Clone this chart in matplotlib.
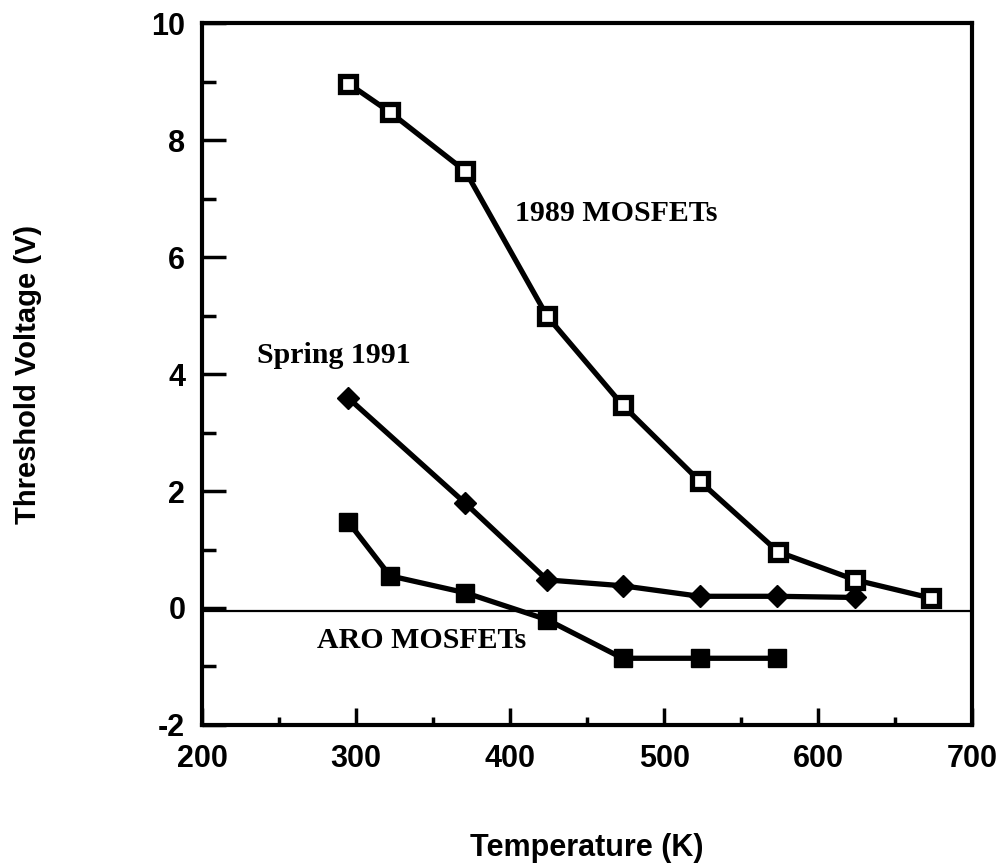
import matplotlib
matplotlib.use("Agg")
import matplotlib.pyplot as plt
from matplotlib.ticker import MultipleLocator

plt.rcParams["axes.unicode_minus"] = False

# temperatures (K) and threshold voltages (V)
temp_1989 = [295, 322, 371, 424, 473, 523, 574, 624, 673]
vt_1989 = [8.97, 8.48, 7.47, 4.99, 3.47, 2.17, 0.96, 0.48, 0.17]

temp_1991 = [295, 371, 424, 473, 523, 573, 624]
vt_1991 = [3.59, 1.79, 0.48, 0.38, 0.2, 0.2, 0.18]

temp_aro = [295, 322, 371, 424, 473, 523, 573]
vt_aro = [1.47, 0.55, 0.26, -0.2, -0.86, -0.86, -0.86]

fig = plt.figure(figsize=(10.03, 8.63), dpi=100)
ax = fig.add_axes([0.2014, 0.160, 0.768, 0.813])

ax.axhline(-0.05, color="k", lw=1.6, zorder=1)

ax.plot(temp_1989, vt_1989, color="k", lw=3.8, marker="s", ms=12,
        mfc="white", mec="k", mew=3.8, zorder=3)
ax.plot(temp_1991, vt_1991, color="k", lw=3.8, marker="D", ms=11,
        mfc="k", mec="k", zorder=3)
ax.plot(temp_aro, vt_aro, color="k", lw=3.8, marker="s", ms=13,
        mfc="k", mec="k", zorder=3)

serif = dict(family="Liberation Serif", fontsize=21.5, fontweight="bold")
ax.text(403, 6.75, "1989 MOSFETs", va="center", ha="left", **serif)
ax.text(236, 4.31, "Spring 1991", va="center", ha="left", **serif)
ax.text(274.5, -0.55, "ARO MOSFETs", va="center", ha="left", **serif)

ax.set_xlim(200, 700)
ax.set_ylim(-2, 10)
ax.xaxis.set_major_locator(MultipleLocator(100))
ax.xaxis.set_minor_locator(MultipleLocator(50))
ax.yaxis.set_major_locator(MultipleLocator(2))
ax.yaxis.set_minor_locator(MultipleLocator(1))

ax.tick_params(axis="x", which="major", direction="in", length=12, width=2.5, pad=14)
ax.tick_params(axis="x", which="minor", direction="in", length=6, width=2.5)
ax.tick_params(axis="y", which="major", direction="in", length=17, width=2.5, pad=12)
ax.tick_params(axis="y", which="minor", direction="in", length=10, width=2.5)

for lab in ax.get_xticklabels() + ax.get_yticklabels():
    lab.set_fontfamily("Liberation Sans")
    lab.set_fontweight("bold")
    lab.set_fontsize(22)

for sp in ax.spines.values():
    sp.set_linewidth(3)

ax.set_xlabel("Temperature (K)", family="Liberation Sans", fontweight="bold", fontsize=22)
ax.set_ylabel("Threshold Voltage (V)", family="Liberation Sans", fontweight="bold", fontsize=21)
ax.xaxis.set_label_coords(0.5, -0.154)
ax.yaxis.set_label_coords(-0.208, 0.5)

fig.savefig("out.png", dpi=100)
